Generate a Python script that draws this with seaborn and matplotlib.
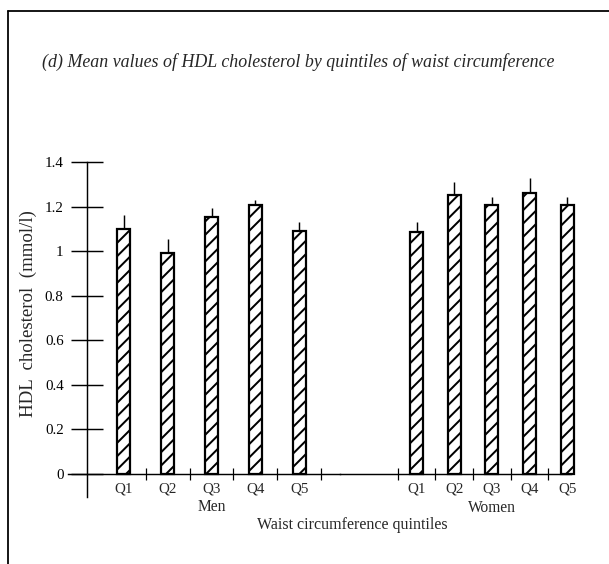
import matplotlib
matplotlib.use("Agg")
import matplotlib.pyplot as plt
import seaborn as sns
import numpy as np
from matplotlib.lines import Line2D

# ---- data ----
quintiles = ["Q1", "Q2", "Q3", "Q4", "Q5"]
men_mean = [1.10, 0.99, 1.155, 1.205, 1.09]
men_upper = [1.16, 1.055, 1.195, 1.23, 1.13]
women_mean = [1.085, 1.25, 1.205, 1.26, 1.205]
women_upper = [1.13, 1.31, 1.245, 1.33, 1.245]
yticks = [0, 0.2, 0.4, 0.6, 0.8, 1.0, 1.2, 1.4]
ytick_labels = ["0", "0.2", "0.4", "0.6", "0.8", "1", "1.2", "1.4"]
title = "(d) Mean values of HDL cholesterol by quintiles of waist circumference"
ylabel = "HDL  cholesterol  (mmol/l)"
xlabel = "Waist circumference quintiles"
groups = ["Men", "Women"]

sns.set_theme(style="white")
plt.rcParams["font.family"] = ["Liberation Serif", "DejaVu Serif"]
plt.rcParams["hatch.linewidth"] = 1.8
plt.rcParams["hatch.color"] = "black"

W, H, DPI = 609, 564, 80
fig = plt.figure(figsize=(W / DPI, H / DPI), dpi=DPI)
fig.patch.set_facecolor("white")

def fx(px):
    return px / W

def fy(py):
    return 1 - py / H

ax1 = fig.add_axes([fx(68), fy(497), fx(340) - fx(68), (497 - 162) / H])
ax2 = fig.add_axes([fx(340), fy(497), fx(571) - fx(340), (497 - 162) / H])

for ax, vals, upper, width in [(ax1, men_mean, men_upper, 0.296),
                               (ax2, women_mean, women_upper, 0.345)]:
    sns.barplot(x=quintiles, y=vals, ax=ax, color="white", edgecolor="black",
                linewidth=2.0, width=width, hatch="//", errorbar=None,
                saturation=1)
    for p in ax.patches:
        p.set_clip_on(False)
    pos = np.arange(len(vals))
    ax.errorbar(pos, vals, yerr=[np.zeros(len(vals)), np.array(upper) - np.array(vals)],
                fmt="none", ecolor="black", elinewidth=1.3, capsize=0)
    ax.set_ylim(-0.103, 1.4)
    ax.set_facecolor("none")
    for s in ["top", "right"]:
        ax.spines[s].set_visible(False)
    ax.spines["bottom"].set_position(("data", 0))
    ax.spines["bottom"].set_linewidth(1.3)
    ax.spines["bottom"].set_color("black")
    ax.tick_params(axis="x", which="major", length=0, pad=8, labelsize=13.5)
    ax.set_xlabel("")
    ax.set_ylabel("")

ax1.set_xlim(-1.269, 4.927)
ax2.set_xlim(-2.031, 4.10)

ax1.spines["left"].set_position(("data", -0.836))
ax1.spines["left"].set_linewidth(1.3)
ax1.spines["left"].set_color("black")
ax1.set_yticks(yticks)
ax1.set_yticklabels(ytick_labels)
ax1.tick_params(axis="y", which="major", left=True, direction="inout",
                length=28, width=1.3, pad=7, labelsize=13.5, colors="black")
ax2.spines["left"].set_visible(False)
ax2.set_yticks([])

ax1.set_xticks(np.arange(5) + 0.5, minor=True)
ax2.set_xticks(np.arange(5) - 0.5, minor=True)
for ax in (ax1, ax2):
    ax.tick_params(axis="x", which="minor", direction="inout", length=10,
                   width=1.1, bottom=True, color="black")

# group labels
ax1.annotate(groups[0], xy=(2, 0), xycoords=("data", "axes fraction"),
             xytext=(0, -10), textcoords="offset pixels",
             ha="center", va="center", fontsize=14)
ax2.annotate(groups[1], xy=(2, 0), xycoords=("data", "axes fraction"),
             xytext=(0, -11), textcoords="offset pixels",
             ha="center", va="center", fontsize=14)

fig.text(fx(352), fy(525), xlabel, ha="center", va="center", fontsize=14.4)
fig.text(fx(42), fy(62), title, ha="left", va="center", fontsize=16.1,
         style="italic")
fig.text(fx(28), fy(314), ylabel, ha="center", va="center", rotation=90,
         fontsize=17)

# page frame
fig.add_artist(Line2D([fx(8), fx(8)], [fy(11), 0], color="black", lw=1.6,
                      transform=fig.transFigure))
fig.add_artist(Line2D([fx(8), 1], [fy(11), fy(11)], color="black", lw=1.6,
                      transform=fig.transFigure))

fig.savefig("out.png", dpi=DPI, facecolor="white")
